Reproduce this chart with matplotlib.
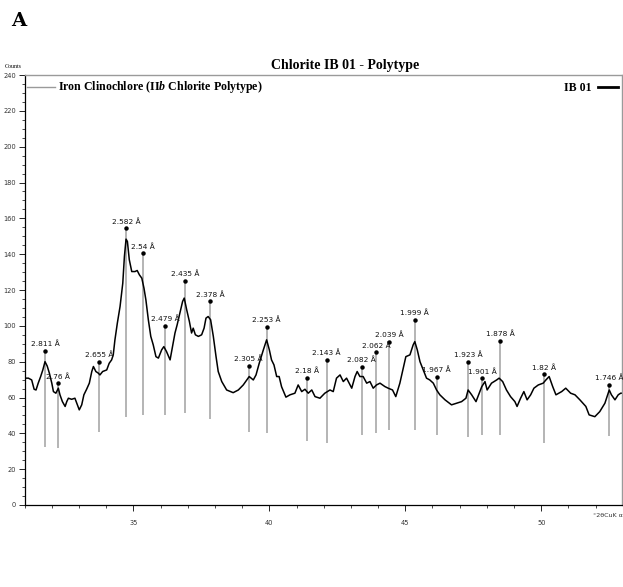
import numpy as np
import matplotlib
matplotlib.use("Agg")
import matplotlib.pyplot as plt
from matplotlib.ticker import MultipleLocator

plt.rcParams["mathtext.fontset"] = "custom"
plt.rcParams["mathtext.it"] = "Liberation Serif:italic:bold"
plt.rcParams["mathtext.rm"] = "Liberation Serif:bold"

two_theta = [
    31.00, 31.14, 31.26, 31.35, 31.42, 31.50, 31.59, 31.67, 31.75, 31.83,
    31.91, 32.00, 32.06, 32.15, 32.24, 32.30, 32.39, 32.49, 32.55, 32.61,
    32.73, 32.85, 32.94, 33.01, 33.10, 33.18, 33.28, 33.38, 33.47, 33.53,
    33.62, 33.71, 33.77, 33.87, 34.02, 34.11, 34.20, 34.26, 34.32, 34.41,
    34.51, 34.61, 34.67, 34.73, 34.78, 34.85, 34.94, 35.06, 35.14, 35.22,
    35.31, 35.39, 35.46, 35.55, 35.64, 35.73, 35.83, 35.92, 36.04, 36.12,
    36.22, 36.35, 36.44, 36.53, 36.61, 36.71, 36.81, 36.87, 36.96, 37.06,
    37.14, 37.20, 37.28, 37.39, 37.51, 37.60, 37.67, 37.75, 37.84, 37.94,
    38.04, 38.12, 38.25, 38.43, 38.67, 38.86, 39.04, 39.17, 39.26, 39.41,
    39.51, 39.63, 39.78, 39.90, 40.00, 40.08, 40.17, 40.27, 40.36, 40.45,
    40.61, 40.76, 40.94, 41.06, 41.19, 41.31, 41.43, 41.56, 41.68, 41.86,
    42.04, 42.23, 42.35, 42.47, 42.60, 42.72, 42.84, 43.03, 43.15, 43.23,
    43.33, 43.45, 43.58, 43.70, 43.82, 43.94, 44.07, 44.25, 44.37, 44.53,
    44.65, 44.80, 45.02, 45.17, 45.29, 45.35, 45.44, 45.54, 45.66, 45.78,
    45.90, 46.03, 46.15, 46.27, 46.46, 46.70, 46.89, 47.07, 47.23, 47.31,
    47.44, 47.60, 47.72, 47.81, 47.93, 48.01, 48.17, 48.36, 48.45, 48.58,
    48.72, 48.87, 49.03, 49.11, 49.24, 49.36, 49.48, 49.61, 49.73, 49.89,
    50.07, 50.17, 50.29, 50.42, 50.54, 50.75, 50.90, 51.08, 51.24, 51.42,
    51.64, 51.76, 51.97, 52.15, 52.34, 52.50, 52.58, 52.71, 52.83, 52.92,
    53.00,
]
counts = [
    70.8, 70.8, 69.8, 64.6, 64.2, 68.0, 71.7, 75.4, 80.0, 77.6,
    73.6, 68.0, 63.3, 62.4, 65.2, 61.5, 57.7, 55.0, 57.7, 59.6,
    59.0, 59.6, 55.9, 53.1, 55.9, 61.5, 64.6, 68.0, 74.5, 77.3,
    74.5, 73.6, 72.6, 74.5, 75.4, 79.1, 81.0, 83.8, 92.0, 101.5,
    110.8, 123.8, 138.7, 148.4, 147.1, 136.9, 130.3, 130.3, 130.9, 128.5,
    126.6, 121.0, 114.5, 103.4, 94.1, 89.4, 82.8, 82.0, 86.6, 88.4,
    85.6, 81.0, 88.4, 96.0, 100.6, 107.0, 113.6, 115.5, 109.0, 102.4,
    96.0, 98.7, 95.0, 94.1, 95.0, 98.7, 104.3, 105.2, 103.4, 94.1,
    82.8, 74.5, 68.9, 64.2, 62.7, 64.2, 67.0, 69.8, 71.7, 69.8,
    72.6, 79.2, 86.6, 92.2, 86.6, 81.0, 78.2, 71.7, 71.7, 66.0,
    60.2, 61.5, 62.4, 67.0, 63.3, 64.6, 62.4, 64.2, 60.5, 59.6,
    62.4, 64.2, 63.3, 70.8, 72.6, 68.9, 70.8, 65.2, 71.7, 74.5,
    71.7, 71.7, 68.0, 68.9, 65.2, 67.0, 68.0, 66.1, 65.2, 64.2,
    60.5, 68.0, 82.8, 83.8, 89.4, 91.2, 86.6, 80.0, 75.4, 70.8,
    69.8, 68.0, 64.2, 61.5, 58.7, 55.9, 56.8, 57.7, 59.6, 64.2,
    61.5, 57.7, 62.4, 66.0, 68.9, 64.2, 68.0, 69.8, 70.8, 68.9,
    64.2, 60.5, 57.7, 55.0, 59.6, 63.3, 58.7, 61.5, 65.2, 67.0,
    68.0, 69.8, 71.7, 66.1, 61.5, 63.3, 65.2, 62.4, 61.5, 58.7,
    55.0, 50.3, 49.3, 52.1, 56.8, 64.2, 61.5, 58.7, 61.5, 62.4,
    62.4,
]

# reference peaks (Iron Clinochlore IIb)
peak_pos = [31.75, 32.24, 33.75, 34.73, 35.34, 36.16, 36.91, 37.82, 39.24, 39.90,
            41.38, 42.11, 43.40, 43.92, 44.41, 45.35, 46.15, 47.30, 47.82, 48.48,
            50.11, 52.49]
peak_d = ["2.811", "2.76", "2.655", "2.582", "2.54", "2.479", "2.435", "2.378",
          "2.305", "2.253", "2.18", "2.143", "2.082", "2.062", "2.039", "1.999",
          "1.967", "1.923", "1.901", "1.878", "1.82", "1.746"]
peak_top = [86.2, 68.0, 80.0, 154.6, 140.6, 100.0, 125.3, 113.6, 77.8, 99.6,
            71.1, 81.0, 77.3, 85.3, 91.2, 103.4, 71.7, 80.0, 70.8, 91.8,
            73.0, 67.0]
peak_base = [32.6, 32.0, 41.0, 49.3, 50.3, 50.0, 51.2, 47.9, 41.0, 40.0,
             35.8, 34.4, 39.0, 40.4, 41.9, 41.9, 39.1, 38.2, 38.9, 39.0,
             34.8, 38.5]

fig = plt.figure(figsize=(6.23, 5.87), dpi=100)
ax = fig.add_axes([0.0395, 0.1397, 0.9585, 0.7325])

# sticks
ax.vlines(peak_pos, peak_base, peak_top, color="#a8a8a8", lw=1.2, zorder=1)
ax.plot(peak_pos, peak_top, "o", color="black", ms=2.2, zorder=3)
for x, t, d in zip(peak_pos, peak_top, peak_d):
    ax.annotate(d + " Å", (x, t), xytext=(0, 2.5), textcoords="offset points",
                ha="center", va="bottom", fontsize=5.3, color="#111111",
                annotation_clip=False)

# pattern
ax.plot(two_theta, counts, color="black", lw=1.1, zorder=2)

ax.set_xlim(31.0, 52.96)
ax.set_ylim(0, 240)
ax.xaxis.set_major_locator(MultipleLocator(5))
ax.xaxis.set_minor_locator(MultipleLocator(1))
ax.yaxis.set_major_locator(MultipleLocator(20))
ax.yaxis.set_minor_locator(MultipleLocator(5))
ax.tick_params(which="major", direction="out", length=4, width=0.6,
               labelsize=4.8, labelcolor="#333333", pad=2)
ax.tick_params(which="minor", direction="out", length=2, width=0.5)
ax.tick_params(axis="x", pad=7)

for side in ("left", "bottom"):
    ax.spines[side].set_color("black")
    ax.spines[side].set_linewidth(0.9)
for side in ("top", "right"):
    ax.spines[side].set_color("#9a9a9a")
    ax.spines[side].set_linewidth(1.0)

serif = ["Liberation Serif", "DejaVu Serif"]

# legend entries
ax.plot([0.004, 0.051], [0.972, 0.972], color="#9a9a9a", lw=1.0,
        transform=ax.transAxes, clip_on=False)
ax.text(0.056, 0.972, "Iron Clinochlore (II$\\mathit{b}$ Chlorite Polytype)",
        transform=ax.transAxes, ha="left", va="center", fontsize=8.6,
        fontweight="bold", family=serif)
ax.text(0.950, 0.969, "IB 01", transform=ax.transAxes, ha="right", va="center",
        fontsize=8.6, fontweight="bold", family=serif)
ax.plot([0.960, 0.993], [0.971, 0.971], color="black", lw=2.0,
        transform=ax.transAxes, clip_on=False)

fig.text(0.554, 0.889, "Chlorite IB 01 - Polytype", ha="center", va="center",
         fontsize=10, fontweight="bold", family=serif)
fig.text(0.008, 0.886, "Counts", ha="left", va="center", fontsize=4.2, family=serif)
fig.text(0.952, 0.122, "°2θCuK α", ha="left", va="center", fontsize=4.6,
         color="#333333")
fig.text(0.018, 0.965, "A", ha="left", va="center", fontsize=14,
         fontweight="bold", family=["DejaVu Serif"])

fig.savefig("out.png", dpi=100)
